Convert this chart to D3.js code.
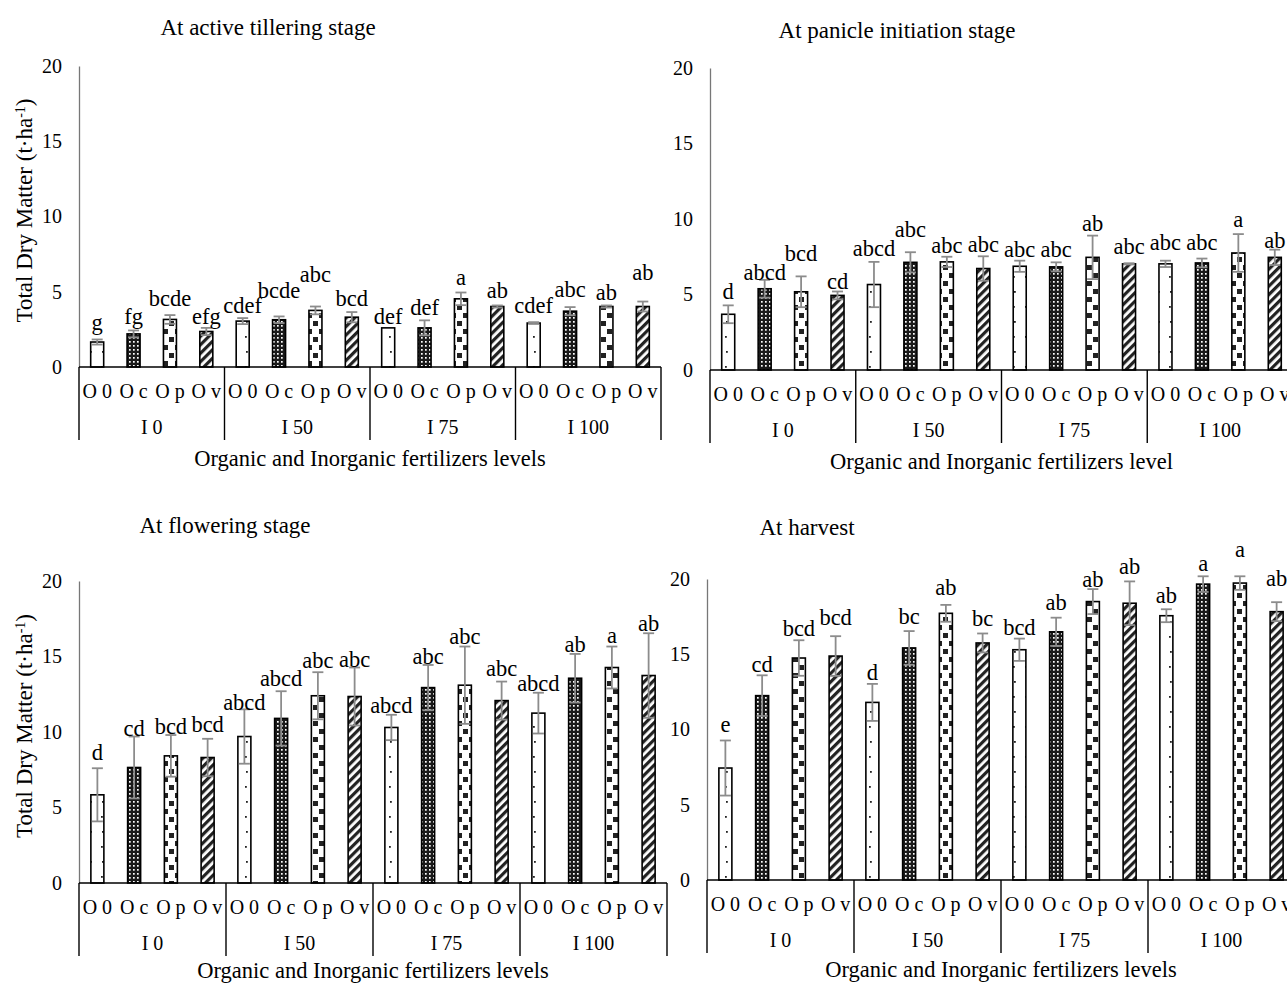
<!DOCTYPE html>
<html>
<head>
<meta charset="utf-8">
<script src="https://cdn.jsdelivr.net/npm/d3@7"></script>
<style>
  html, body { margin: 0; padding: 0; background: #fff; }
  svg { display: block; }
  text { font-family: "Liberation Serif", "Times New Roman", serif; fill: #000; }
</style>
</head>
<body>
<svg id="chart" width="1287" height="984"></svg>
<script>
// ---------- data ----------
const groups = ["I 0", "I 50", "I 75", "I 100"];
const organics = ["O 0", "O c", "O p", "O v"];
const yTicks = [0, 5, 10, 15, 20];

const tilleringMean = [1.66, 2.2, 3.16, 2.36, 3.05, 3.14, 3.76, 3.31, 2.6, 2.6, 4.53, 4.02, 2.92, 3.71, 4.02, 4.02];
const tilleringErr  = [0.17, 0.23, 0.29, 0.24, 0.2, 0.22, 0.26, 0.34, 0.0, 0.5, 0.42, 0.07, 0.06, 0.27, 0.07, 0.33];
const tilleringLetters = ["g","fg","bcde","efg","cdef","bcde","abc","bcd","def","def","a","ab","cdef","abc","ab","ab"];
const tilleringLabelAt = [3.0, 3.4, 4.6, 3.4, 4.1, 5.1, 6.2, 4.6, 3.4, 4.0, 6.0, 5.1, 4.1, 5.2, 5.0, 6.3];

const panicleMean = [3.69, 5.38, 5.18, 4.94, 5.66, 7.13, 7.16, 6.72, 6.87, 6.83, 7.46, 7.03, 7.03, 7.09, 7.75, 7.46];
const panicleErr  = [0.59, 0.59, 1.02, 0.26, 1.5, 0.67, 0.34, 0.81, 0.37, 0.3, 1.44, 0.04, 0.21, 0.29, 1.25, 0.51];
const panicleLetters = ["d","abcd","bcd","cd","abcd","abc","abc","abc","abc","abc","ab","abc","abc","abc","a","ab"];
const panicleLabelAt = [5.2, 6.5, 7.75, 5.9, 8.1, 9.3, 8.3, 8.35, 8.0, 8.0, 9.7, 8.2, 8.5, 8.5, 10.0, 8.6];

const floweringMean = [5.84, 7.65, 8.42, 8.31, 9.7, 10.9, 12.4, 12.35, 10.3, 12.94, 13.1, 12.08, 11.25, 13.56, 14.27, 13.74];
const floweringErr  = [1.76, 2.05, 1.38, 1.24, 1.8, 1.8, 1.56, 1.92, 0.84, 1.5, 2.56, 1.26, 1.35, 1.61, 1.39, 2.8];
const floweringLetters = ["d","cd","bcd","bcd","abcd","abcd","abc","abc","abcd","abc","abc","abc","abcd","ab","a","ab"];
const floweringLabelAt = [8.67, 10.25, 10.4, 10.5, 12.0, 13.56, 14.77, 14.8, 11.8, 15.04, 16.36, 14.2, 13.23, 15.83, 16.43, 17.2];

const harvestMean = [7.44, 12.25, 14.75, 14.88, 11.8, 15.42, 17.72, 15.75, 15.3, 16.49, 18.5, 18.39, 17.56, 19.66, 19.73, 17.83];
const harvestErr  = [1.83, 1.35, 1.18, 1.32, 1.23, 1.12, 0.56, 0.63, 0.74, 0.94, 0.83, 1.45, 0.43, 0.52, 0.45, 0.63];
const harvestLetters = ["e","cd","bcd","bcd","d","bc","ab","bc","bcd","ab","ab","ab","ab","a","a","ab"];
const harvestLabelAt = [10.35, 14.37, 16.76, 17.5, 13.8, 17.56, 19.44, 17.39, 16.83, 18.46, 20.0, 20.85, 18.95, 21.07, 21.97, 20.07];

// ---------- layout ----------
const panels = [
  { title: "At active tillering stage", mean: tilleringMean, err: tilleringErr, letters: tilleringLetters, labelAt: tilleringLabelAt,
    x0: 79, w: 582, y0: 367, y20: 66, tx: 268, ty: 27, xTitle: "Organic and Inorganic fertilizers levels", xty: 458, yTitle: true },
  { title: "At panicle initiation stage", mean: panicleMean, err: panicleErr, letters: panicleLetters, labelAt: panicleLabelAt,
    x0: 710, w: 583, y0: 370, y20: 68, tx: 897, ty: 30, xTitle: "Organic and Inorganic fertilizers level", xty: 461, yTitle: false },
  { title: "At flowering stage", mean: floweringMean, err: floweringErr, letters: floweringLetters, labelAt: floweringLabelAt,
    x0: 79, w: 588, y0: 883, y20: 581, tx: 225, ty: 525, xTitle: "Organic and Inorganic fertilizers levels", xty: 970, yTitle: true },
  { title: "At harvest", mean: harvestMean, err: harvestErr, letters: harvestLetters, labelAt: harvestLabelAt,
    x0: 707, w: 588, y0: 880, y20: 579, tx: 807, ty: 527, xTitle: "Organic and Inorganic fertilizers levels", xty: 969, yTitle: false }
];

const svg = d3.select("#chart");
const defs = svg.append("defs");

// patterns
const pDots = defs.append("pattern").attr("id", "pat0").attr("patternUnits", "userSpaceOnUse")
  .attr("width", 12).attr("height", 30);
pDots.append("rect").attr("width", 12).attr("height", 30).attr("fill", "#fff");
pDots.append("rect").attr("x", 5).attr("y", 6).attr("width", 1.8).attr("height", 1.8).attr("fill", "#222");
pDots.append("rect").attr("x", 6).attr("y", 21).attr("width", 1.8).attr("height", 1.8).attr("fill", "#222");

const pGrid = defs.append("pattern").attr("id", "pat1").attr("patternUnits", "userSpaceOnUse")
  .attr("width", 4).attr("height", 4);
pGrid.append("rect").attr("width", 4).attr("height", 4).attr("fill", "#1a1a1a");
pGrid.append("rect").attr("x", 1).attr("y", 1).attr("width", 1.7).attr("height", 1.7).attr("fill", "#fff");

const pSq = defs.append("pattern").attr("id", "pat2").attr("patternUnits", "userSpaceOnUse")
  .attr("width", 12).attr("height", 16);
pSq.append("rect").attr("width", 12).attr("height", 16).attr("fill", "#fff");
pSq.append("rect").attr("x", 1).attr("y", 1).attr("width", 5).attr("height", 5).attr("fill", "#222");
pSq.append("rect").attr("x", 7).attr("y", 9).attr("width", 5).attr("height", 5).attr("fill", "#222");

const pStr = defs.append("pattern").attr("id", "pat3").attr("patternUnits", "userSpaceOnUse")
  .attr("width", 6).attr("height", 6).attr("patternTransform", "rotate(45)");
pStr.append("rect").attr("width", 6).attr("height", 6).attr("fill", "#fff");
pStr.append("rect").attr("width", 3.2).attr("height", 6).attr("fill", "#222");

const patIds = ["url(#pat0)", "url(#pat1)", "url(#pat2)", "url(#pat3)"];

panels.forEach(p => {
  const keys = [];
  groups.forEach(g => organics.forEach(o => keys.push(g + "|" + o)));
  const rows = keys.map((k, i) => ({ key: k, g: k.split("|")[0], o: k.split("|")[1], oi: i % 4,
    v: p.mean[i], e: p.err[i], letter: p.letters[i], la: p.labelAt[i] }));

  const x = d3.scaleBand().domain(keys).range([p.x0, p.x0 + p.w]).paddingInner(0).paddingOuter(0);
  const xg = d3.scaleBand().domain(groups).range([p.x0, p.x0 + p.w]);
  const y = d3.scaleLinear().domain([0, 20]).range([p.y0, p.y20]);
  const bw = 13;
  const cap = 11;

  const g = svg.append("g");

  // title
  g.append("text").attr("x", p.tx).attr("y", p.ty).attr("dy", "0.35em").attr("text-anchor", "middle")
    .style("font-size", "23px").text(p.title);

  // y axis
  const ya = g.append("g").attr("transform", `translate(${p.x0},0)`)
    .call(d3.axisLeft(y).tickValues(yTicks).tickSize(0).tickPadding(17).tickFormat(d3.format("d")));
  ya.select(".domain").attr("stroke", "#777").attr("stroke-width", 1.3);
  ya.selectAll("text").style("font-size", "20px").style("font-family", "Liberation Serif, serif").attr("fill", "#000");

  // bars
  g.selectAll("rect.bar").data(rows).join("rect").attr("class", "bar")
    .attr("x", d => x(d.key) + x.bandwidth() / 2 - bw / 2)
    .attr("y", d => y(d.v))
    .attr("width", bw)
    .attr("height", d => y(0) - y(d.v))
    .attr("fill", d => patIds[d.oi])
    .attr("stroke", "#000").attr("stroke-width", 1.6);

  // error bars
  const eb = g.selectAll("g.err").data(rows.filter(d => d.e > 0)).join("g").attr("class", "err")
    .attr("stroke", "#8c8c8c").attr("stroke-width", 1.8).attr("fill", "none");
  eb.append("line")
    .attr("x1", d => x(d.key) + x.bandwidth() / 2).attr("x2", d => x(d.key) + x.bandwidth() / 2)
    .attr("y1", d => y(d.v - d.e)).attr("y2", d => y(d.v + d.e));
  eb.append("line")
    .attr("x1", d => x(d.key) + x.bandwidth() / 2 - cap / 2).attr("x2", d => x(d.key) + x.bandwidth() / 2 + cap / 2)
    .attr("y1", d => y(d.v + d.e)).attr("y2", d => y(d.v + d.e));
  eb.append("line")
    .attr("x1", d => x(d.key) + x.bandwidth() / 2 - cap / 2).attr("x2", d => x(d.key) + x.bandwidth() / 2 + cap / 2)
    .attr("y1", d => y(d.v - d.e)).attr("y2", d => y(d.v - d.e));

  // letters
  g.selectAll("text.letter").data(rows).join("text").attr("class", "letter")
    .attr("x", d => x(d.key) + x.bandwidth() / 2)
    .attr("y", d => y(d.la)).attr("dy", "0.35em")
    .attr("text-anchor", "middle").style("font-size", "22.5px").text(d => d.letter);

  // x axis line
  g.append("line").attr("x1", p.x0).attr("x2", p.x0 + p.w).attr("y1", p.y0).attr("y2", p.y0)
    .attr("stroke", "#000").attr("stroke-width", 1.6);

  // group separators
  const seps = groups.map(gr => xg(gr)).concat([p.x0 + p.w]);
  g.selectAll("line.sep").data(seps).join("line").attr("class", "sep")
    .attr("x1", d => d).attr("x2", d => d).attr("y1", p.y0).attr("y2", p.y0 + 73)
    .attr("stroke", "#000").attr("stroke-width", 1.4);

  // category labels
  g.selectAll("text.cat").data(rows).join("text").attr("class", "cat")
    .attr("x", d => x(d.key) + x.bandwidth() / 2).attr("y", p.y0 + 24).attr("dy", "0.35em")
    .attr("text-anchor", "middle").style("font-size", "20px").text(d => d.o);

  // group labels
  g.selectAll("text.grp").data(groups).join("text").attr("class", "grp")
    .attr("x", d => xg(d) + xg.bandwidth() / 2).attr("y", p.y0 + 60).attr("dy", "0.35em")
    .attr("text-anchor", "middle").style("font-size", "20px").text(d => d);

  // x title
  g.append("text").attr("x", p.x0 + p.w / 2).attr("y", p.xty).attr("dy", "0.35em")
    .attr("text-anchor", "middle").style("font-size", "22.5px").text(p.xTitle);

  // y title
  if (p.yTitle) {
    const yt = g.append("text")
      .attr("transform", `translate(24,${(p.y0 + p.y20) / 2 - 6}) rotate(-90)`)
      .attr("text-anchor", "middle").attr("dy", "0.35em").style("font-size", "23px");
    yt.append("tspan").text("Total Dry Matter (t·ha");
    yt.append("tspan").attr("baseline-shift", "super").style("font-size", "14px").text("-1");
    yt.append("tspan").text(")");
  }
});
</script>
</body>
</html>
